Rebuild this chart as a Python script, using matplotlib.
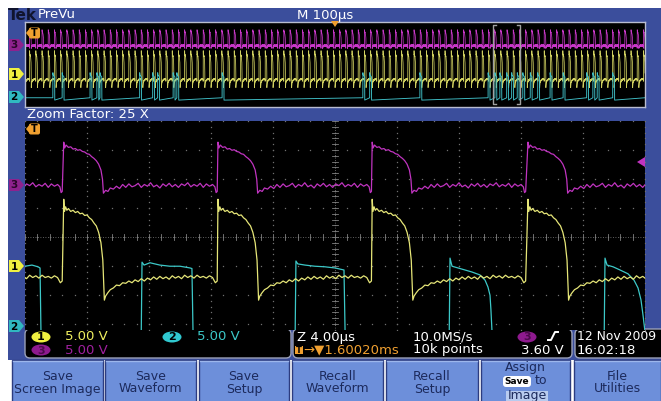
import numpy as np
import matplotlib.pyplot as plt
from matplotlib.patches import Rectangle, Polygon, FancyBboxPatch, Ellipse

W, H = 661, 401

# ---- values ----
# main (zoom) view: 4 us/div x 10 div, 5 V/div, channel offsets in divisions
volts_per_div = 5.0
ch_offset = {'1': -1.0, '2': -3.07, '3': 1.79}

# one switching period of ch3 (t from rising edge in us, volts)
ch3_t = [0.00, 0.06, 0.15, 0.30, 0.45, 0.60, 0.75, 0.90, 1.05, 1.20, 1.35, 1.50,
         1.65, 1.80, 1.95, 2.10, 2.25, 2.40, 2.50, 2.56, 2.70, 2.85, 3.00, 3.20,
         3.40, 3.60, 3.80, 4.00, 4.20, 4.40, 4.60, 4.80, 5.00, 5.20, 5.40, 5.60,
         5.80, 6.00, 6.20, 6.40, 6.60, 6.80, 7.00, 7.20, 7.40, 7.60, 7.80, 8.00,
         8.20, 8.40, 8.60, 8.80, 9.00, 9.20, 9.40, 9.60, 9.75, 9.83, 9.90]
ch3_v = [7.4, 6.4, 6.9, 6.5, 6.6, 6.2, 6.3, 6.0, 6.1, 5.8, 5.7, 5.4,
         5.3, 4.9, 4.6, 4.2, 3.6, 2.6, 1.0, -1.4, -0.9, -1.1, -0.5, -0.7,
         -0.2, -0.6, 0.1, -0.4, 0.2, -0.3, -0.1, 0.3, -0.4, 0.1, -0.2, 0.4,
         -0.3, 0.0, -0.5, 0.2, -0.2, 0.3, -0.3, 0.1, -0.4, 0.2, -0.1, 0.4,
         -0.3, 0.1, -0.2, 0.3, -0.4, 0.2, -0.2, 0.1, -0.3, -1.3, -1.1]

# one switching period of ch1
ch1_t = [0.00, 0.05, 0.12, 0.20, 0.30, 0.45, 0.60, 0.75, 0.90, 1.05, 1.20, 1.35,
         1.50, 1.65, 1.80, 1.95, 2.10, 2.25, 2.40, 2.52, 2.62, 2.70, 2.85, 3.00,
         3.20, 3.40, 3.60, 3.80, 4.00, 4.20, 4.40, 4.60, 4.80, 5.00, 5.20, 5.40,
         5.60, 5.80, 6.00, 6.20, 6.40, 6.60, 6.80, 7.00, 7.20, 7.40, 7.60, 7.80,
         8.00, 8.20, 8.40, 8.60, 8.80, 9.00, 9.20, 9.40, 9.60, 9.78, 9.90]
ch1_v = [11.5, 9.4, 10.2, 9.6, 9.9, 9.4, 9.6, 9.2, 9.4, 9.0, 9.1, 8.7,
         8.8, 8.3, 8.0, 7.4, 6.9, 5.8, 4.0, 1.0, -5.9, -5.2, -4.6, -4.1,
         -3.8, -3.3, -3.4, -2.9, -3.0, -2.6, -2.9, -2.4, -2.7, -2.2, -2.6, -2.1,
         -2.4, -1.9, -2.3, -1.8, -2.2, -1.9, -2.3, -1.7, -2.1, -1.8, -2.2, -1.6,
         -2.0, -1.7, -2.1, -1.6, -2.0, -1.8, -2.1, -1.7, -2.0, -2.9, -2.6]

# rising edges of ch1/ch3 in the zoom window (us)
pulse_starts = [-7.5, 2.5, 12.45, 22.4, 32.45]

# ch2 trace in the zoom window (us, volts)
ch2_t = [0.0, 0.45, 0.84, 0.97, 1.03, 7.50, 7.55, 7.68, 8.06, 8.70, 9.35, 10.0,
         10.65, 10.77, 10.84, 17.43, 17.48, 17.60, 18.06, 18.70, 19.35, 20.0,
         20.58, 20.65, 27.37, 27.42, 27.55, 27.94, 28.39, 28.84, 29.35, 29.68,
         29.87, 30.0, 30.06, 30.13, 37.37, 37.42, 37.55, 37.94, 38.39, 38.90,
         39.29, 39.55, 39.74, 39.87, 40.0]
ch2_v = [10.3, 10.5, 10.2, 10.0, -1.0, -1.0, 11.0, 10.5, 10.9, 10.5, 10.3, 10.3,
         10.0, 9.9, -1.0, -1.0, 11.2, 10.7, 10.5, 10.3, 10.2, 10.0,
         9.65, -1.0, -1.0, 11.7, 10.3, 10.0, 9.65, 9.3, 8.8, 7.9,
         6.7, 5.3, 2.8, -1.0, -1.0, 11.7, 10.5, 10.2, 9.65, 9.0,
         7.9, 6.55, 4.5, 1.9, -1.0]

# PreVu overview: 100 us/div x 10 div
ov_span = 1000.0
ov_period = 10.0
ov_first = 7.5
ov_ch2_pulses = [45, 60, 105, 116, 121, 185, 206, 214, 239, 245, 318, 545, 556,
                 637, 747, 758, 766, 777, 785, 794, 803, 815, 827, 847, 868,
                 906, 916, 923, 948]
ov_ch2_low = (-1.4, -0.3)
zoom_window = (755, 798)

BLUE = '#3b4e9c'
BTN = '#6d8fda'
NAVY = '#1c2a5c'
YEL = '#e6e678'
CYA = '#3cc8c8'
MAG = '#c034c0'
ORA = '#f0a030'

fig = plt.figure(figsize=(W / 100, H / 100), dpi=100)


def fbox(x0, y0, x1, y1):
    return [x0 / W, 1 - y1 / H, (x1 - x0) / W, (y1 - y0) / H]


ui = fig.add_axes([0, 0, 1, 1])
ui.set_xlim(0, W)
ui.set_ylim(H, 0)
ui.axis('off')
ui.add_patch(Rectangle((8, 8), W - 8, 352, fc=BLUE, ec='none'))

# title row
ui.text(8, 15, 'Tek', fontsize=11, fontweight='bold', color='#10142e', va='center')
ui.text(38, 15, 'PreVu', fontsize=9.5, color='white', va='center')
ui.text(297, 15, 'M 100\u00b5s', fontsize=9.5, color='white', va='center')
ui.text(27, 114, 'Zoom Factor: 25 X', fontsize=9.5, color='white', va='center')


def ch_marker(ax, y, label, fill, txt):
    ax.add_patch(Polygon([(9, y - 6), (19, y - 6), (24, y), (19, y + 6), (9, y + 6)],
                         closed=True, fc=fill, ec='none'))
    ax.text(14, y + 0.5, label, ha='center', va='center', fontsize=7.5,
            fontweight='bold', color=txt)


for ys in ((45, 74, 97), (185, 266, 326)):
    ch_marker(ui, ys[0], '3', '#8e228e', '#2a062a')
    ch_marker(ui, ys[1], '1', '#f0f040', 'black')
    ch_marker(ui, ys[2], '2', '#30b8c0', 'black')

# ---- overview ----
ov = fig.add_axes(fbox(25, 22, 645, 107))
ov.set_facecolor('black')
ov.set_xlim(0, ov_span)
ov.set_ylim(-4, 4)
ov.set_xticks([])
ov.set_yticks([])
for s in ov.spines.values():
    s.set_color('#b8bcd0')
    s.set_linewidth(1)

ov_starts = np.arange(ov_first - ov_period, ov_span, ov_period)
t3 = np.concatenate([s + np.array(ch3_t) for s in ov_starts])
v3 = np.tile(ch3_v, len(ov_starts))
t1 = np.concatenate([s + np.array(ch1_t) for s in ov_starts])
v1 = np.tile(ch1_v, len(ov_starts))
ov.plot(t3, ch_offset['3'] + v3 / volts_per_div, color='#c838c8', lw=0.55)
ov.plot(t1, ch_offset['1'] + v1 / volts_per_div, color='#d0d060', lw=0.55)

tc, vc = [0.0], [ov_ch2_low[1]]
for p in ov_ch2_pulses:
    tc += [p - 0.1, p, p + 0.3, p + 2.8, p + 3.0]
    vc += [ov_ch2_low[1], 11.5, 10.5, 9.5, ov_ch2_low[0]]
tc.append(ov_span)
vc.append(ov_ch2_low[1])
ov.plot(tc, ch_offset['2'] + np.array(vc) / volts_per_div, color='#40c0c8', lw=0.65)

# zoom bracket
z0, z1 = zoom_window
for zx, d in ((z0, 1), (z1, -1)):
    ov.plot([zx + d * 4, zx, zx, zx + d * 4], [3.75, 3.75, -3.75, -3.75],
            color='#a0a0a0', lw=1)

# ---- main zoom view ----
mn = fig.add_axes(fbox(25, 121, 645, 330))
mn.set_facecolor('black')
mn.set_xlim(0, 40)
mn.set_ylim(-3.21, 4)
mn.set_xticks([])
mn.set_yticks([])
for s in mn.spines.values():
    s.set_visible(False)

gx = np.arange(0, 40.01, 0.8)
gy = np.arange(-4, 4.01, 0.2)
for xv in range(0, 41, 4):
    mn.plot(np.full_like(gy, xv), gy, ls='none', marker='s', ms=0.9,
            mew=0, color='#707070')
for yv in range(-3, 5):
    mn.plot(gx, np.full_like(gx, yv), ls='none', marker='s', ms=0.9,
            mew=0, color='#707070')
mn.plot([20, 20], [-4, 4], color='#808080', lw=0.6, ls=(0, (1, 2)))
mn.plot([0, 40], [0, 0], color='#808080', lw=0.6, ls=(0, (1, 2)))
for x in gx:
    mn.plot([x, x], [-0.1, 0.1], color='#808080', lw=0.6)
for y in gy:
    mn.plot([19.8, 20.2], [y, y], color='#808080', lw=0.6)

m3t = np.concatenate([s + np.array(ch3_t) for s in pulse_starts])
m3v = np.tile(ch3_v, len(pulse_starts))
m1t = np.concatenate([s + np.array(ch1_t) for s in pulse_starts])
m1v = np.tile(ch1_v, len(pulse_starts))
mn.plot(np.array(ch2_t), ch_offset['2'] + np.array(ch2_v) / volts_per_div, color=CYA, lw=0.9)
mn.plot(m1t, ch_offset['1'] + m1v / volts_per_div, color=YEL, lw=0.9)
mn.plot(m3t, ch_offset['3'] + m3v / volts_per_div, color=MAG, lw=0.9)

# ---- overlay markers ----
fg = fig.add_axes([0, 0, 1, 1], zorder=5)
fg.patch.set_alpha(0)
fg.set_xlim(0, W)
fg.set_ylim(H, 0)
fg.axis('off')


def t_marker(ax, y):
    ax.add_patch(Polygon([(26, y), (30, y - 5), (30, y + 5)], closed=True, fc=ORA, ec='none'))
    ax.add_patch(FancyBboxPatch((29, y - 5.5), 11, 11, boxstyle='round,pad=0,rounding_size=2',
                                fc=ORA, ec='none'))
    ax.text(34.5, y + 0.5, 'T', ha='center', va='center', fontsize=7, fontweight='bold',
            color='black')


t_marker(fg, 33)
t_marker(fg, 129)
fg.add_patch(Polygon([(331, 21), (339, 21), (335, 27)], closed=True, fc=ORA, ec='none'))
fg.add_patch(Polygon([(637, 162), (645, 157), (645, 167)], closed=True, fc=MAG, ec='none'))

# ---- readout boxes ----
for x0, x1 in ((25, 291), (293, 572), (575, 680)):
    ui.add_patch(FancyBboxPatch((x0, 329), x1 - x0, 29, boxstyle='round,pad=0,rounding_size=5',
                                fc='black', ec='#9aa0b8', lw=1))


def badge(x, y, label, fill, txt):
    ui.add_patch(Ellipse((x, y), 19, 11, fc=fill, ec='none'))
    ui.text(x, y + 0.5, label, ha='center', va='center', fontsize=8, fontweight='bold', color=txt)


fs = 9.5
badge(41, 337, '1', '#f0f040', 'black')
ui.text(65, 337, '5.00 V', fontsize=fs, color='#f0f060', va='center')
badge(172, 337, '2', '#30c8d0', 'black')
ui.text(197, 337, '5.00 V', fontsize=fs, color=CYA, va='center')
badge(41, 350, '3', '#8e1a8e', '#4a0a4a')
ui.text(65, 350, '5.00 V', fontsize=fs, color='#a020a0', va='center')

ui.text(297, 337, 'Z 4.00\u00b5s', fontsize=fs, color='white', va='center')
ui.add_patch(Rectangle((295, 346), 8, 8, fc=ORA, ec='none'))
ui.text(299, 350.5, 'T', ha='center', va='center', fontsize=6, fontweight='bold', color='black')
ui.text(303, 350, '\u2192\u25bc1.60020ms', fontsize=fs, color=ORA, va='center')
ui.text(413, 337, '10.0MS/s', fontsize=fs, color='white', va='center')
ui.text(413, 350, '10k points', fontsize=fs, color='white', va='center')
badge(527, 337, '3', '#8e1a8e', '#4a0a4a')
ui.plot([548, 551, 555, 558], [340, 340, 332, 332], color='white', lw=1.4)
ui.text(564, 350, '3.60 V', fontsize=fs, color='white', va='center', ha='right')
ui.text(577, 337, '12 Nov 2009', fontsize=8.9, color='white', va='center')
ui.text(577, 350, '16:02:18', fontsize=fs, color='white', va='center')

# ---- soft buttons ----
buttons = [(12, 103, ['Save', 'Screen Image']), (105, 196, ['Save', 'Waveform']),
           (199, 289, ['Save', 'Setup']), (292, 383, ['Recall', 'Waveform']),
           (386, 478, ['Recall', 'Setup']), (481, 570, None), (574, 661, ['File', 'Utilities'])]
for x0, x1, lines in buttons:
    ui.add_patch(Rectangle((x0, 360), x1 - x0, 45, fc=BTN, ec='#2c3c80', lw=1))
    ui.plot([x0 + 1, x1 - 1], [361, 361], color='#9cb6ec', lw=1)
    if lines:
        xc = (x0 + x1) / 2
        ui.text(xc, 376, lines[0], ha='center', va='center', fontsize=9, color=NAVY)
        ui.text(xc, 389, lines[1], ha='center', va='center', fontsize=9, color=NAVY)

ui.text(525, 367, 'Assign', ha='center', va='center', fontsize=9, color=NAVY)
ui.add_patch(FancyBboxPatch((503, 376), 28, 11, boxstyle='round,pad=0,rounding_size=3',
                            fc='white', ec='none'))
ui.text(517, 381.5, 'Save', ha='center', va='center', fontsize=6.5, fontweight='bold',
        color='black')
ui.text(541, 381, 'to', ha='center', va='center', fontsize=9, color=NAVY)
ui.add_patch(Rectangle((506, 391), 42, 12, fc='#b8cbef', ec='none'))
ui.text(527, 396, 'Image', ha='center', va='center', fontsize=9, color=NAVY)

fig.savefig('out.png', dpi=100, facecolor='white')
